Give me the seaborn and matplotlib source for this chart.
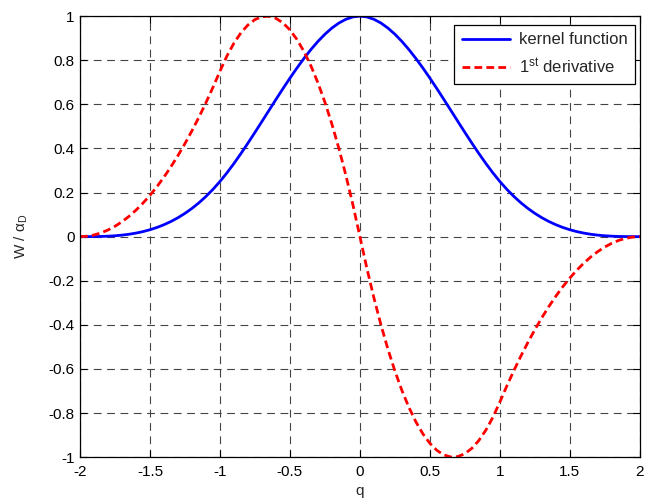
import numpy as np
import pandas as pd
import matplotlib
matplotlib.use("Agg")
import matplotlib.pyplot as plt
import seaborn as sns

# sample positions (normalised distance q)
q = np.linspace(-2.0, 2.0, 81)

# cubic spline kernel, normalised by alpha_D
kernel = [
    0.0, 0.00003, 0.00025, 0.00084, 0.002, 0.00391, 0.00675, 0.01072, 0.016, 0.02278,
    0.03125, 0.04159, 0.054, 0.06866, 0.08575, 0.10547, 0.128, 0.15353, 0.18225, 0.21434,
    0.25, 0.28928, 0.33175, 0.37684, 0.424, 0.47266, 0.52225, 0.57222, 0.622, 0.67103,
    0.71875, 0.76459, 0.808, 0.84841, 0.88525, 0.91797, 0.946, 0.96878, 0.98575, 0.99634,
    1.0,
    0.99634, 0.98575, 0.96878, 0.946, 0.91797, 0.88525, 0.84841, 0.808, 0.76459, 0.71875,
    0.67103, 0.622, 0.57222, 0.52225, 0.47266, 0.424, 0.37684, 0.33175, 0.28928, 0.25,
    0.21434, 0.18225, 0.15353, 0.128, 0.10547, 0.08575, 0.06866, 0.054, 0.04159, 0.03125,
    0.02278, 0.016, 0.01072, 0.00675, 0.00391, 0.002, 0.00084, 0.00025, 0.00003, 0.0,
]

# first derivative of the kernel
derivative = [
    0.0, 0.00188, 0.0075, 0.01688, 0.03, 0.04688, 0.0675, 0.09188, 0.12, 0.15188,
    0.1875, 0.22688, 0.27, 0.31688, 0.3675, 0.42188, 0.48, 0.54188, 0.6075, 0.67688,
    0.75, 0.81938, 0.8775, 0.92438, 0.96, 0.98438, 0.9975, 0.99938, 0.99, 0.96938,
    0.9375, 0.89438, 0.84, 0.77438, 0.6975, 0.60938, 0.51, 0.39938, 0.2775, 0.14438,
    0.0,
    -0.14438, -0.2775, -0.39938, -0.51, -0.60938, -0.6975, -0.77438, -0.84, -0.89438, -0.9375,
    -0.96938, -0.99, -0.99938, -0.9975, -0.98438, -0.96, -0.92438, -0.8775, -0.81938, -0.75,
    -0.67688, -0.6075, -0.54188, -0.48, -0.42188, -0.3675, -0.31688, -0.27, -0.22688, -0.1875,
    -0.15188, -0.12, -0.09188, -0.0675, -0.04688, -0.03, -0.01688, -0.0075, -0.00188, 0.0,
]

x_ticks = [-2, -1.5, -1, -0.5, 0, 0.5, 1, 1.5, 2]
x_tick_labels = ["-2", "-1.5", "-1", "-0.5", "0", "0.5", "1", "1.5", "2"]
y_ticks = [-1, -0.8, -0.6, -0.4, -0.2, 0, 0.2, 0.4, 0.6, 0.8, 1]
y_tick_labels = ["-1", "-0.8", "-0.6", "-0.4", "-0.2", "0", "0.2", "0.4", "0.6", "0.8", "1"]

df = pd.DataFrame({"q": q, "kernel": kernel, "derivative": derivative})

sns.set_style("ticks")
plt.rcParams["font.family"] = ["Liberation Sans", "DejaVu Sans"]
plt.rcParams["mathtext.fontset"] = "custom"
plt.rcParams["mathtext.rm"] = "Liberation Sans"
plt.rcParams["mathtext.it"] = "Liberation Sans:italic"

fig = plt.figure(figsize=(6.45, 5.04), dpi=100)
ax = fig.add_axes([0.124, 0.093, 0.868, 0.875])

sns.lineplot(data=df, x="q", y="kernel", ax=ax, color="#0000ff", linewidth=2.0,
             label="kernel function")
sns.lineplot(data=df, x="q", y="derivative", ax=ax, color="#ff0000", linewidth=2.0,
             linestyle=(0, (2.8, 1.5)), label="1$^{\\mathrm{st}}$ derivative")

ax.set_xlim(-2, 2)
ax.set_ylim(-1, 1)
ax.set_xticks(x_ticks)
ax.set_xticklabels(x_tick_labels)
ax.set_yticks(y_ticks)
ax.set_yticklabels(y_tick_labels)
ax.tick_params(direction="in", length=5, width=0.8, top=True, right=True,
               labelsize=11, colors="black")
ax.tick_params(axis="x", pad=6)
ax.tick_params(axis="y", pad=4)
ax.grid(True, color="#444444", linestyle=(0, (7, 5)), linewidth=0.8)
for s in ax.spines.values():
    s.set_visible(True)
    s.set_color("black")
    s.set_linewidth(0.9)

ax.set_xlabel("q", fontsize=11, labelpad=3)
ax.set_ylabel("W / α$_{\\mathrm{D}}$", fontsize=11, labelpad=13)

leg = ax.legend(loc="upper right", bbox_to_anchor=(0.991, 0.98), borderaxespad=0,
                fontsize=12, frameon=True, fancybox=False,
                handlelength=2.9, borderpad=0.45, labelspacing=0.55,
                handletextpad=0.5)
leg.get_frame().set_edgecolor("black")
leg.get_frame().set_linewidth(0.9)
leg.get_frame().set_alpha(1)

fig.savefig("out.png", dpi=100)
